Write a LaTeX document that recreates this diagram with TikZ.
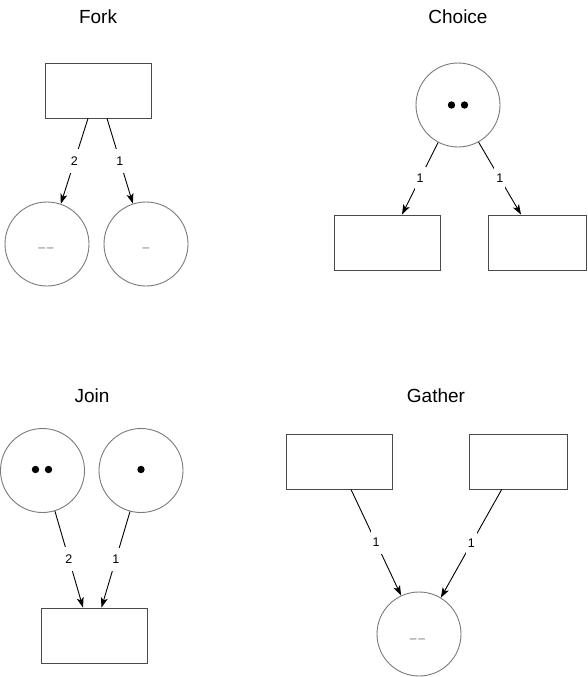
\documentclass[tikz,border=0pt]{standalone}
\usepackage{fontspec}
\setmainfont{Liberation Sans}
\usetikzlibrary{arrows.meta,calc}
\definecolor{shapegray}{HTML}{7A7A7A}
\definecolor{rectgray}{HTML}{4A4A4A}
\definecolor{dashgray}{HTML}{6E6E6E}
\tikzset{
  place/.style={circle, draw=shapegray, line width=0.9pt, minimum size=84pt, inner sep=0pt},
  trans/.style={rectangle, draw=rectgray, line width=0.9pt, minimum height=55pt, inner sep=0pt},
  title/.style={font=\fontsize{19}{21}\selectfont, inner sep=0pt},
  arc/.style={draw=black, line width=0.9pt, -{Stealth[length=10pt,width=7pt,inset=2.5pt]}},
  lbl/.style={fill=white, font=\fontsize{12.5}{14}\selectfont, text height=8.8pt, text depth=0pt, inner xsep=2pt, inner ysep=7.5pt},
  dashes/.style={text=dashgray, font=\fontsize{12}{14}\selectfont, inner sep=0pt, anchor=base},
  token/.style={fill=black}
}
\begin{document}
\begin{tikzpicture}[x=1pt,y=-1pt]
\useasboundingbox (0,0) rectangle (587,677);
% ---------- Fork ----------
\node[title] (tfork) at (98,17) {Fork};
\node[trans, minimum width=106pt] (f0) at (98,90.5) {};
\node[place] (fa) at (47,244) {};
\node[place] (fb) at (146,244) {};
\node[dashes] (fad) at ($(fa.center)+(-1,7.5)$) {\textendash\kern1.8pt\textendash};
\node[dashes] (fbd) at ($(fb.center)+(0,7.5)$) {\textendash};
\draw[arc] ([xshift=-10pt]f0.south) -- node[lbl] {2} (fa.71);
\draw[arc] ([xshift=9pt]f0.south) -- node[lbl] {1} (fb.108);
% ---------- Choice ----------
\node[title] (tchoice) at (458,17) {Choice};
\node[place] (c0) at (458,105) {};
\fill[token] ($(c0.center)+(-6.5,0)$) circle (3.7);
\fill[token] ($(c0.center)+(6.5,0)$) circle (3.7);
\node[trans, minimum width=106pt] (ca) at (387,242.5) {};
\node[trans, minimum width=98pt] (cb) at (537,242.5) {};
\draw[arc] (c0.242) -- node[lbl] {1} ([xshift=15pt]ca.north);
\draw[arc] (c0.299) -- node[lbl] {1} ([xshift=-16pt]cb.north);
% ---------- Join ----------
\node[title] (tjoin) at (92,396) {Join};
\node[place] (ja) at (42.5,470.5) {};
\node[place] (jb) at (141,470.5) {};
\fill[token] ($(ja.center)+(-7,-1)$) circle (3.7);
\fill[token] ($(ja.center)+(6,-1)$) circle (3.7);
\fill[token] ($(jb.center)+(0,-1)$) circle (3.7);
\node[trans, minimum width=106pt] (j0) at (94,635.5) {};
\draw[arc] (ja.287) -- node[lbl] {2} ([xshift=-11pt]j0.north);
\draw[arc] (jb.255) -- node[lbl] {1} ([xshift=7.5pt]j0.north);
% ---------- Gather ----------
\node[title] (tgather) at (436,396) {Gather};
\node[trans, minimum width=106.5pt] (ga) at (339.5,461.5) {};
\node[trans, minimum width=98pt] (gb) at (518,461.5) {};
\node[place] (g0) at (419,634) {};
\node[dashes] (g0d) at ($(g0.center)+(-1.5,8.5)$) {\textendash\kern1.8pt\textendash};
\draw[arc] ([xshift=11.5pt]ga.south) -- node[lbl] {1} (g0.115);
\draw[arc] ([xshift=-16.3pt]gb.south) -- node[lbl] {1} (g0.59);
\end{tikzpicture}
\end{document}
